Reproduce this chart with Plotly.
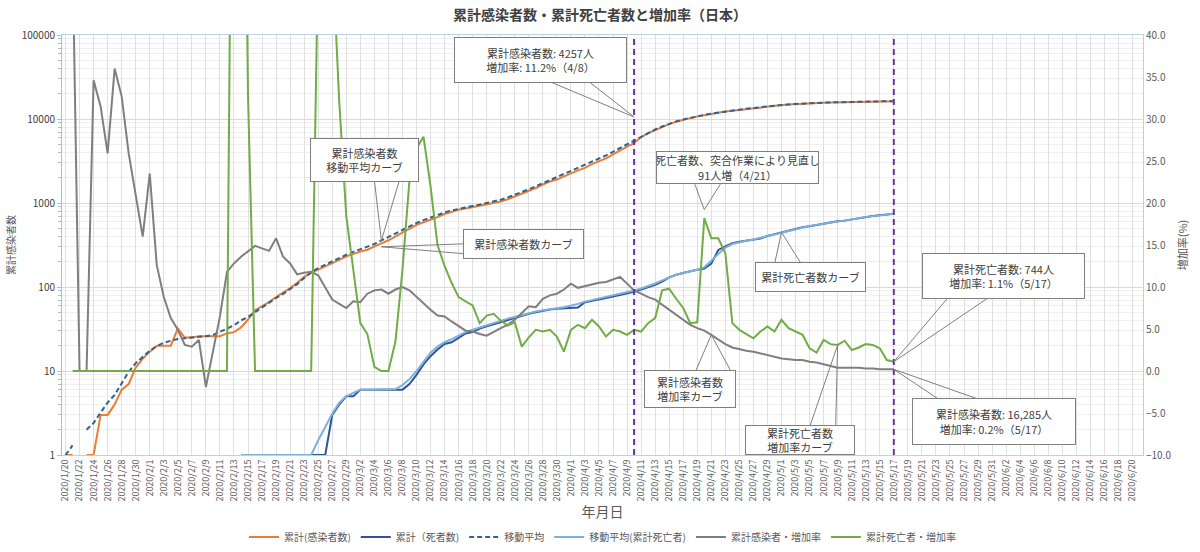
import datetime as dt
import math
import plotly.graph_objects as go

# category axis: 2020/1/20 .. 2020/6/21
d0 = dt.date(2020, 1, 20)
dates = [f"{d.year}/{d.month}/{d.day}" for d in (d0 + dt.timedelta(days=k) for k in range(154))]

# cumulative infected (1/20 .. 5/17)
cases = [1, 1, None, 1, 1, 3, 3, 4, 6, 7, 11, 14, 17, 20, 20, 20, 32, 25, 25, 26,
         26, 26, 26, 28, 29, 33, 41, 53, 59, 66, 76, 85, 97, 112, 132, 147, 160, 178, 193, 210,
         232, 250, 265, 278, 300, 330, 360, 400, 440, 495, 550, 590, 630, 680, 740, 790, 830, 860, 890, 920,
         960, 1000, 1040, 1110, 1200, 1280, 1390, 1510, 1660, 1800, 1900, 2050, 2250, 2450, 2620, 2900, 3150, 3400, 3800, 4257,
         4700, 5150, 6100, 6800, 7400, 8100, 8700, 9300, 9800, 10300, 10750, 11100, 11500, 11800, 12250, 12500, 12800, 13150, 13500, 13800,
         14100, 14400, 14650, 14850, 15050, 15250, 15400, 15500, 15600, 15700, 15800, 15900, 16000, 16050, 16100, 16150, 16220, 16260, 16285]

# moving average of cumulative infected
cases_ma = [1, 1.3, None, 2.0, 2.4, 3.2, 4.2, 5.2, 7.2, 9.8, 12.4, 14.8, 17.4, 19.8, 21.7, 22.9, 24, 24.6, 25, 25.6,
            26, 26.8, 29, 32, 35, 40, 44, 50, 58, 65, 74, 83, 95, 108, 128, 150, 168, 185, 203, 222,
            242, 262, 280, 300, 325, 358, 395, 435, 482, 530, 578, 625, 672, 720, 770, 815, 855, 890, 922, 955,
            995, 1040, 1095, 1165, 1250, 1345, 1455, 1580, 1720, 1860, 2000, 2170, 2370, 2580, 2800, 3060, 3350, 3680, 4070, 4500,
            4980, 5480, 6150, 6850, 7500, 8150, 8750, 9350, 9850, 10350, 10800, 11200, 11600, 11950, 12300, 12600, 12900, 13250, 13550, 13850,
            14150, 14450, 14700, 14900, 15100, 15300, 15450, 15550, 15650, 15750, 15850, 15950, 16030, 16080, 16130, 16180, 16240, 16270, 16300]

# cumulative deaths
deaths = [None] * 25 + [1] * 13 + [
    3, 4, 5, 5, 6, 6, 6, 6, 6, 6, 6, 7,
    9, 12, 15, 18, 21, 22, 25, 28, 29, 32, 34, 36, 38, 41, 43, 45, 48, 50, 52, 54,
    55, 56, 56, 57, 66, 69, 72, 74, 77, 80, 84, 88, 93, 99, 106, 116, 130, 140, 148, 154,
    160, 166, 190, 276, 305, 333, 345, 355, 362, 378, 405, 425, 450, 470, 492, 515, 530, 550, 565, 590,
    605, 617, 640, 658, 680, 700, 715, 730, 744]

# moving average of cumulative deaths
deaths_ma = [None] * 25 + [1] * 11 + [
    1.5, 2.2, 3.1, 4.2, 5, 5.5, 6, 6, 6, 6, 6, 6.1, 6.8, 8,
    10, 13, 16.5, 19.5, 22, 24, 26.5, 29, 31, 33, 35, 37, 39.5, 42, 44, 46.5, 49, 51, 53, 55,
    56, 57.5, 60, 63, 67, 70, 73, 76, 79, 82.5, 86, 91, 96, 102, 110, 120, 131, 140, 147, 153,
    160, 172, 205, 250, 295, 325, 343, 356, 368, 385, 405, 426, 449, 470, 492, 513, 531, 549, 567, 587,
    603, 619, 639, 659, 679, 698, 714, 729, 744]

# growth rate of infected (%)
rate_cases = [None, 50, 0, 0, 34.6, 31.5, 25.9, 36.0, 32.7, 25.9, 21.2, 16.0, 23.5, 12.6, 8.8, 6.3, 4.9, 3.1, 2.9, 3.7,
              -1.9, 2.1, 6.5, 11.8, 12.8, 13.6, 14.2, 14.9, 14.6, 14.3, 15.8, 13.6, 12.8, 11.5, 11.7, 11.8, 11.4, 10.0, 8.5, 8.0,
              7.5, 8.3, 8.2, 9.2, 9.6, 9.7, 9.2, 9.7, 10.0, 9.6, 8.8, 8.1, 7.3, 6.6, 6.5, 5.9, 5.3, 4.8, 4.7, 4.4,
              4.2, 4.7, 5.1, 5.5, 6.1, 6.9, 7.7, 7.6, 8.6, 9.0, 9.2, 9.7, 10.4, 9.9, 10.1, 10.3, 10.5, 10.6, 10.9, 11.2,
              10.4, 9.6, 9.2, 8.8, 8.5, 7.9, 7.3, 6.7, 6.1, 5.5, 5.1, 4.8, 4.3, 3.7, 3.2, 2.8, 2.6, 2.4, 2.3, 2.1,
              1.9, 1.7, 1.5, 1.4, 1.3, 1.3, 1.1, 1.0, 0.8, 0.6, 0.4, 0.4, 0.4, 0.4, 0.3, 0.3, 0.2, 0.2, 0.2]

# growth rate of deaths (%)
rate_deaths = [None] + [0] * 23 + [100, 100, 32.7] + [0] * 9 + [
    50, 60, 50, 32, 18.4, 12.0, 5.7, 4.4, 0.5, 0, 0, 3.5, 12, 22.7,
    26.5, 27.9, 22, 15, 12.5, 10.5, 8.8, 8.3, 7.8, 5.7, 6.6, 6.8, 6.0, 5.4, 5.8, 2.9, 4.0, 4.9, 4.7, 4.9,
    4.1, 2.3, 4.9, 5.5, 5.1, 6.1, 5.3, 4.1, 4.9, 4.7, 4.3, 4.9, 4.7, 5.7, 6.3, 9.6, 9.8, 8.6, 7.5, 5.7,
    5.8, 18.2, 15.8, 15.8, 14.0, 5.7, 4.9, 4.4, 3.9, 4.7, 5.3, 4.7, 6.1, 5.1, 4.7, 4.3, 2.7, 2.2, 3.7, 3.2,
    3.1, 3.6, 2.5, 2.8, 3.2, 3.1, 2.7, 1.3, 1.1]

font = "Noto Sans CJK JP"
txt = "#595959"

fig = go.Figure()
n = len(cases)
fig.add_scatter(x=dates[:n], y=cases, name="累計(感染者数)", mode="lines",
                line=dict(color="#ED7D31", width=2))
fig.add_scatter(x=dates[:n], y=deaths, name="累計（死者数)", mode="lines",
                line=dict(color="#2F5597", width=2))
fig.add_scatter(x=dates[:n], y=cases_ma, name="移動平均", mode="lines",
                line=dict(color="#2E6395", width=2, dash="5px,3px"))
fig.add_scatter(x=dates[:n], y=deaths_ma, name="移動平均(累計死亡者)", mode="lines",
                line=dict(color="#7EB0DC", width=2))
fig.add_scatter(x=dates[:n], y=rate_cases, name="累計感染者・増加率", mode="lines", yaxis="y2",
                line=dict(color="#7F7F7F", width=2))
fig.add_scatter(x=dates[:n], y=rate_deaths, name="累計死亡者・増加率", mode="lines", yaxis="y2",
                line=dict(color="#70AD47", width=2))

# purple dashed markers
for d in ["2020/4/10", "2020/5/17"]:
    k = dates.index(d)
    fig.add_shape(type="line", xref="x", yref="paper", x0=k, x1=k, y0=0, y1=1,
                  line=dict(color="#7030A0", width=2, dash="6px,4px"))


def callout(text, x, y, box, size, wedge, yref="y"):
    # wedge: two pointer lines from the box edge to the tip, then the box on top
    for bx, by in wedge:
        fig.add_annotation(text="", x=x, y=y, yref=yref, ax=bx, ay=by,
                           showarrow=True, arrowhead=0, arrowwidth=1, arrowcolor="#7F7F7F")
    fig.add_annotation(text=text, x=x, y=y, yref=yref, xshift=box[0], yshift=-box[1],
                       showarrow=False, width=size[0] - 2, height=size[1] - 2,
                       bgcolor="white", bordercolor="#7F7F7F", borderwidth=1, borderpad=0,
                       font=dict(family=font, size=11, color="#404040"), align="center",
                       valign="middle")


callout("累計感染者数: 4257人<br>増加率: 11.2%（4/8）", "2020/4/10", 4.024,
        (-94, -57), (173, 46), [(-86, -36), (-46, -36)])
callout("累計感染者数<br>移動平均カーブ", dates[45], math.log10(cases_ma[45]),
        (-17, -80), (109, 44), [(-7, -60), (18, -60)])
callout("累計感染者数カーブ", dates[45], math.log10(cases[45]) - 0.04,
        (142, -3), (121, 30), [(84, -3), (84, 7)])
callout("死亡者数、突合作業により見直し<br>91人増（4/21）", dates[91], rate_deaths[91] + 1,
        (33, -42), (163, 33), [(-10, -27), (17, -27)], "y2")
callout("累計死亡者数カーブ", dates[102], math.log10(deaths_ma[102]),
        (29, 45), (111, 30), [(-7, 32), (20, 32)])
callout("累計感染者数<br>増加率カーブ", dates[92], rate_cases[92],
        (-21, 54), (92, 38), [(-16, 37), (20, 37)], "y2")
callout("累計死亡者数<br>増加率カーブ", dates[110], rate_deaths[110],
        (-38, 95), (110, 30), [(-28, 82), (-2, 82)], "y2")
callout("累計死亡者数: 744人<br>増加率: 1.1%（5/17）", dates[118], rate_deaths[118],
        (110, -86), (163, 46), [(55, -65), (96, -65)], "y2")
callout("累計感染者数: 16,285人<br>増加率: 0.2%（5/17）", dates[118], rate_cases[118],
        (100, 52), (164, 47), [(45, 30), (85, 30)], "y2")

major = [1, 10, 100, 1000, 10000, 100000]
minor = [m * 10 ** e for e in range(5) for m in range(2, 10)]

fig.update_layout(
    width=1200, height=552,
    margin=dict(l=62, r=57, t=35, b=97),
    paper_bgcolor="white", plot_bgcolor="white",
    font=dict(family=font, color=txt),
    title=dict(text="<b>累計感染者数・累計死亡者数と増加率（日本）</b>", x=0.5, xanchor="center",
               y=1 - 15 / 552, yanchor="middle", font=dict(size=14, color="#404040")),
    showlegend=True,
    legend=dict(orientation="h", x=0.5, xanchor="center", yref="container",
                y=1 - 537 / 552, yanchor="middle",
                font=dict(size=10, color=txt), itemwidth=30),
    xaxis=dict(type="category", categoryorder="array", categoryarray=dates,
               range=[-0.5, len(dates) - 0.5], automargin=False,
               tickmode="array", tickvals=dates[::2], ticktext=dates[::2],
               tickangle=-90, tickfont=dict(size=9, color=txt),
               showgrid=True, gridcolor="#E0E0E0", gridwidth=1,
               showline=True, linecolor="#BDD0DE", mirror=True, ticks="",
               title=dict(text="年月日", font=dict(size=14, color=txt), standoff=6)),
    yaxis=dict(type="log", range=[0, 5], tickmode="array", tickvals=major, automargin=False,
               ticktext=[str(v) for v in major], tickfont=dict(size=10, color="#404040"),
               showgrid=True, gridcolor="#DADADA", gridwidth=1,
               minor=dict(tickmode="array", tickvals=minor, showgrid=True, gridcolor="#F0F0F0",
                          ticks="outside", ticklen=3, tickcolor="#A6BFD4"),
               showline=True, linecolor="#A6BFD4", ticks="outside", ticklen=4, tickcolor="#A6BFD4",
               title=dict(text="累計感染者数", font=dict(size=10, color=txt), standoff=4)),
    yaxis2=dict(overlaying="y", side="right", range=[-10, 40], dtick=5, tickformat=".1f",
                automargin=False,
                tickfont=dict(size=10, color=txt), showgrid=False, zeroline=False,
                showline=True, linecolor="#BDD0DE",
                title=dict(text="増加率(%)", font=dict(size=11, color=txt), standoff=8)),
)

# drop the default 8px page margin so the figure sits at the window's corner
fig.write_html("out.html", config={"displayModeBar": False},
               post_script="document.body.style.margin='0';")
